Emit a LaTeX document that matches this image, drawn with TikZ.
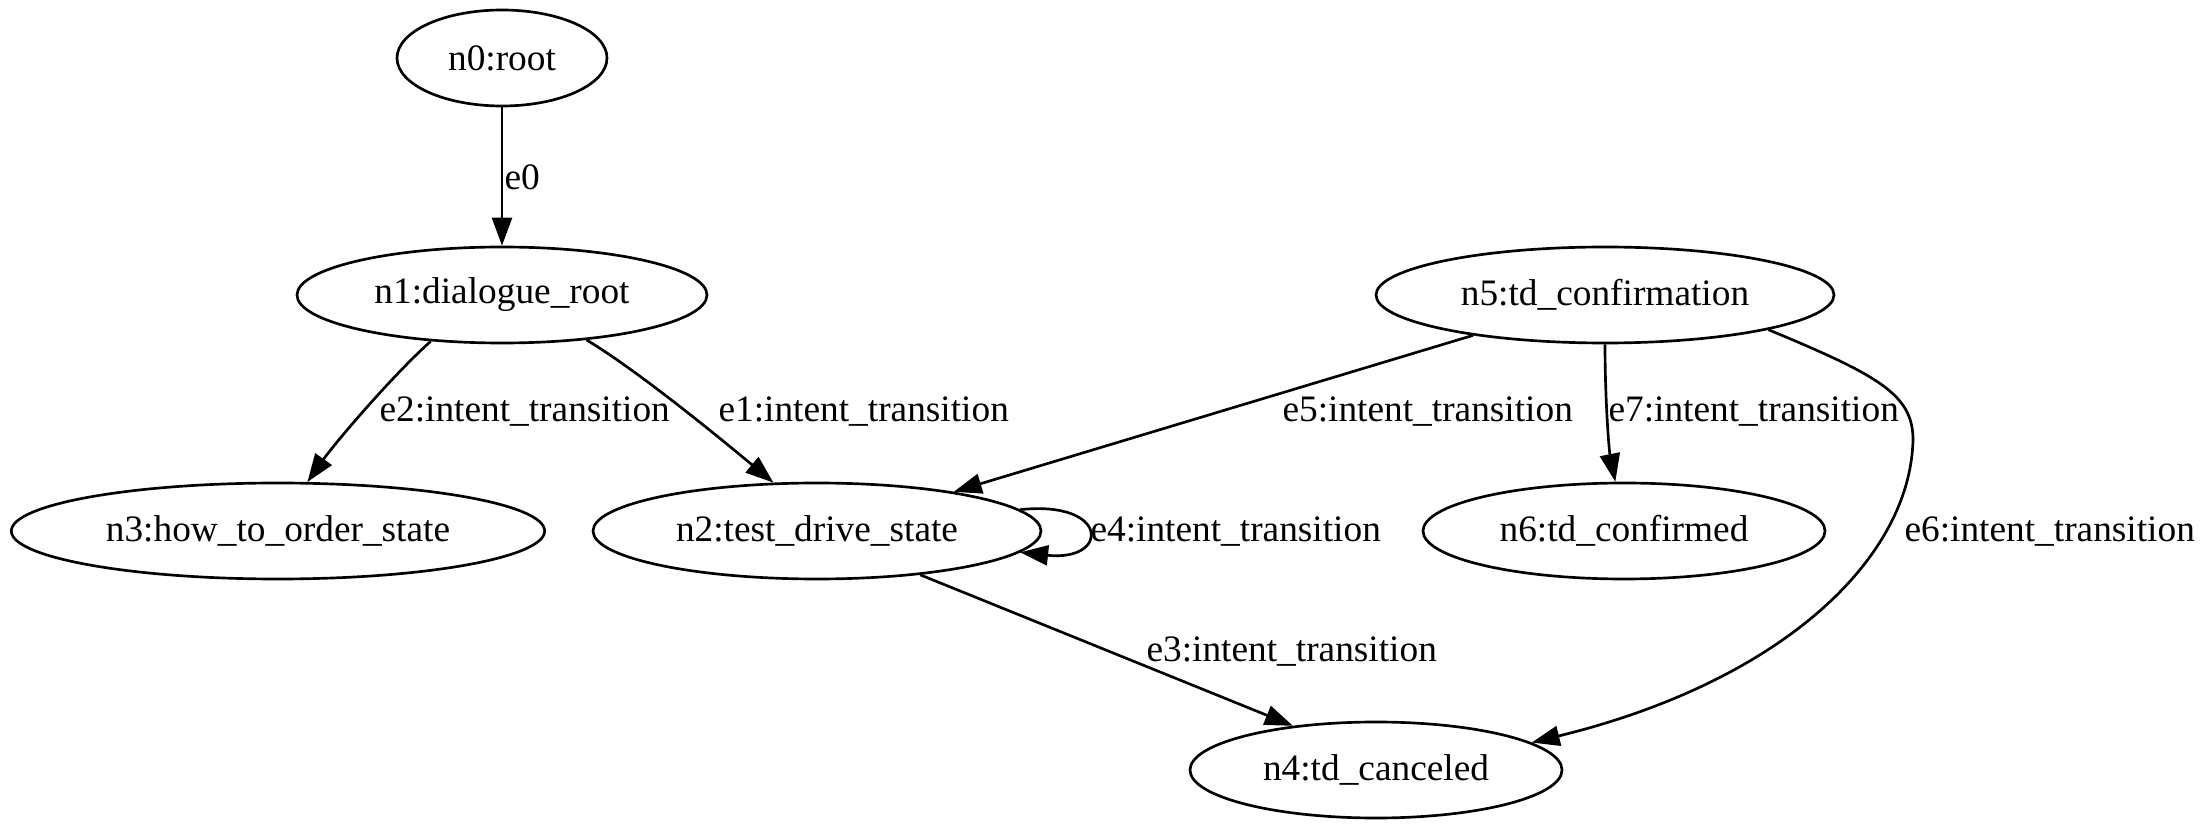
\documentclass[tikz,border=0pt]{standalone}
\usepackage{fontspec}
\setmainfont{Liberation Serif}
\usetikzlibrary{arrows.meta,shapes.geometric}
\begin{document}
\begin{tikzpicture}[x=0.375pt,y=-0.375pt,
  st/.style={ellipse,draw,line width=1pt,inner sep=0pt,minimum height=36pt,font=\fontsize{14}{16}\selectfont},
  edge/.style={draw,line width=1pt,-{Triangle[length=10.5pt,width=7.5pt]}},
  lbl/.style={inner sep=0pt,anchor=west,font=\fontsize{14}{16}\selectfont}]
\useasboundingbox (0,0) rectangle (2206,826);
% nodes
\node[st,minimum width=78.75pt] (n0) at (502,58) {n0:root};
\node[st,minimum width=153.75pt] (n1) at (502,295) {n1:dialogue\_root};
\node[st,minimum width=171.75pt] (n5) at (1605,295) {n5:td\_confirmation};
\node[st,minimum width=200pt] (n3) at (278,531) {n3:how\_to\_order\_state};
\node[st,minimum width=168pt] (n2) at (817,531) {n2:test\_drive\_state};
\node[st,minimum width=150.75pt] (n6) at (1624,531) {n6:td\_confirmed};
\node[st,minimum width=139.5pt] (n4) at (1376,770) {n4:td\_canceled};
% edges
\draw[edge] (n0) -- (n1);
\draw[edge] (n1.213) .. controls (392,376) and (335,443) .. (n3.59);
\draw[edge] (n1.332) .. controls (640,372) and (727,444) .. (n2.132);
\draw[edge] (n5.197) -- (n2.16);
\draw[edge] (n2.6) .. controls (1110,500) and (1110,562) .. (n2.-6);
\draw[edge] (n2.337) -- (n4.152);
\draw[edge] (n5.348) .. controls (1880,376) and (1913,395) .. (1913,440)
  .. controls (1910,560) and (1780,682) .. (n4.10);
\draw[edge] (n5.270) .. controls (1605,400) and (1609,450) .. (n6.100);
% labels
\node[lbl] (l0) at (504,177) {e0};
\node[lbl] (l1) at (718,412) {e1:intent\_transition};
\node[lbl] (l2) at (379,412) {e2:intent\_transition};
\node[lbl] (l5) at (1282,412) {e5:intent\_transition};
\node[lbl] (l7) at (1608,412) {e7:intent\_transition};
\node[lbl] (l4) at (1090,532) {e4:intent\_transition};
\node[lbl] (l6) at (1904,532) {e6:intent\_transition};
\node[lbl] (l3) at (1146,652) {e3:intent\_transition};
\end{tikzpicture}
\end{document}
